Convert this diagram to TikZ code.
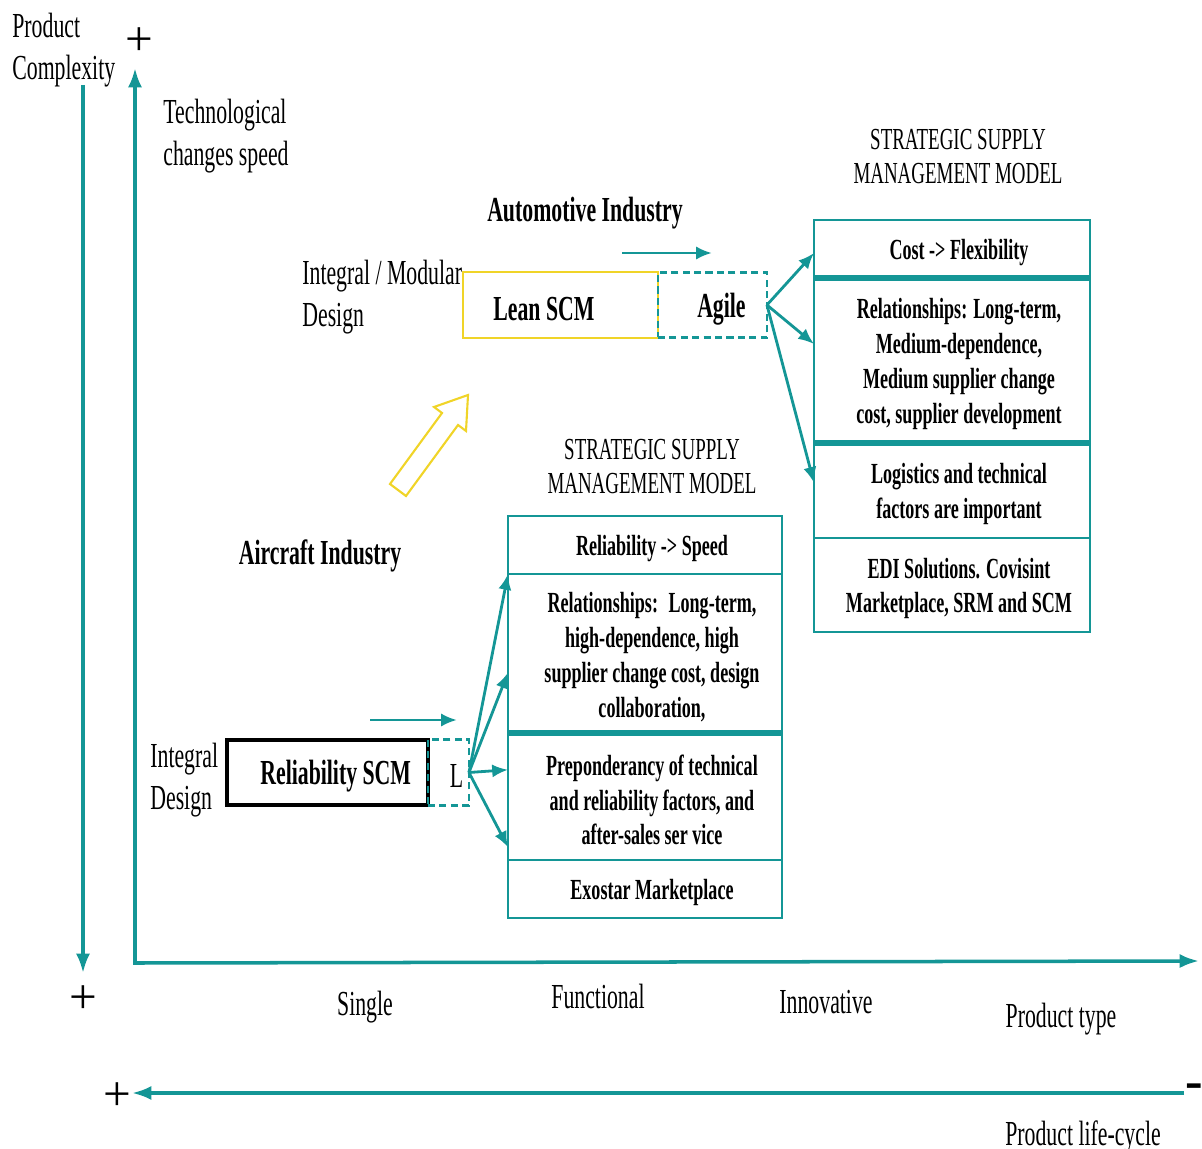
\documentclass[tikz,border=0pt]{standalone}
\usepackage{fontspec}
\setmainfont{Liberation Serif}[FakeStretch=0.62]
\newfontfamily\plusfont{Liberation Serif}
\usetikzlibrary{arrows.meta,positioning,calc}
\definecolor{tealc}{RGB}{20,150,150}
\definecolor{yellowc}{RGB}{240,212,40}
\tikzstyle{axis}=[draw=tealc,line width=2pt,>={Latex[length=11pt,width=8pt]}]
\tikzstyle{flow}=[draw=tealc,line width=1.6pt,-{Latex[length=9pt,width=7.5pt]}]
\tikzstyle{lbl}=[inner sep=0pt,align=left,yshift=-2.2pt,font=\fontsize{20}{24}\selectfont]
\tikzstyle{boldlbl}=[inner sep=0pt,align=center,yshift=-2.2pt,font=\fontsize{20}{24}\selectfont\bfseries]
\tikzstyle{head}=[inner sep=0pt,align=center,yshift=-2.2pt,font=\fontsize{17.4}{19.5}\selectfont]
\tikzstyle{plus}=[inner sep=0pt,font=\plusfont\fontsize{28}{28}\selectfont]
\tikzstyle{cellA}=[draw=tealc,line width=1.1pt,minimum width=5.52cm,inner sep=0pt,outer sep=0pt,align=center,text depth=0.4cm,font=\fontsize{16.6}{19.8}\selectfont\bfseries]
\tikzstyle{cellB}=[cellA,minimum width=5.48cm]
\tikzstyle{thicksep}=[draw=tealc,line width=3pt]
\tikzstyle{dashbox}=[draw=tealc,line width=1.3pt,dash pattern=on 4pt off 2.5pt,inner sep=0pt,outer sep=0pt]
\tikzstyle{solidbox}=[inner sep=0pt,outer sep=0pt,anchor=north west]

\begin{document}
\begin{tikzpicture}[x=0.02cm,y=-0.02cm]
\useasboundingbox (0,0) rectangle (1202,1148);

% axes
\coordinate (o) at (135,963);
\coordinate (ytop) at (135,68);
\coordinate (xend) at (1199,961);
\coordinate (pctop) at (83,85);
\coordinate (pcbot) at (83,973);
\coordinate (lcstart) at (1184,1093);
\coordinate (lcend) at (132,1093);
\draw[axis,<->] (ytop) -- (o) -- (xend);
\draw[axis,->] (pctop) -- (pcbot);
\draw[axis,->] (lcstart) -- (lcend);

\node[plus] (plusA) at (139,42) {+};
\node[plus] (plusB) at (83,1000) {+};
\node[plus] (plusC) at (117,1097) {+};
\node[plus,font=\plusfont\fontsize{30}{30}\selectfont\bfseries] (minusA) at (1194,1091) {-};

\node[lbl,anchor=west] (pcx) at (12,46) {Product\\Complexity};
\node[lbl,anchor=west] (tcs) at (163,132) {Technological\\changes speed};
\node[lbl] (single) at (365,1003) {Single};
\node[lbl] (functional) at (598,993) {Functional};
\node[lbl] (innovative) at (826,998) {Innovative};
\node[lbl] (ptype) at (1061,1015) {Product type};
\node[lbl] (plc) at (1083,1133) {Product life-cycle};

% automotive
\node[boldlbl] (auto) at (585,209) {Automotive Industry};
\node[lbl,anchor=west] (imd) at (302,293) {Integral / Modular\\Design};
\node[solidbox,draw=yellowc,line width=1.5pt,minimum width=3.9cm,minimum height=1.32cm] (lean) at (463,272) {};
\node[boldlbl,anchor=west] at ([xshift=0.6cm]lean.west) {Lean SCM};
\node[dashbox,minimum width=2.18cm,minimum height=1.3cm,right=0pt of lean] (agile) {};
\node[boldlbl] at ([xshift=0.18cm]agile.center) {Agile};
\coordinate (aa1) at (622,253);
\coordinate (aa2) at (712,253);
\draw[flow] (aa1) -- (aa2);

\node[head] (headA) at (958,153) {STRATEGIC SUPPLY\\MANAGEMENT MODEL};
\node[cellA,minimum height=1.16cm,anchor=north west] (c1) at (814,220) {};
\node[cellA,minimum height=3.3cm,below=0pt of c1] (c2) {};
\node[cellA,minimum height=1.9cm,below=0pt of c2] (c3) {};
\node[cellA,minimum height=1.88cm,below=0pt of c3] (c4) {};
\draw[thicksep] (c1.south west) -- (c1.south east);
\draw[thicksep] (c2.south west) -- (c2.south east);
% texts of the upper table
\tikzstyle{celltxt}=[inner sep=0pt,align=center,yshift=-2pt,xshift=0.14cm,font=\fontsize{16.6}{19.8}\selectfont\bfseries]
\node[celltxt] at (c1.center) {Cost -> Flexibility};
\node[celltxt] at (c2.center) {Relationships: Long-term,\\Medium-dependence,\\Medium supplier change\\cost, supplier development};
\node[celltxt] at (c3.center) {Logistics and technical\\factors are important};
\node[celltxt] at (c4.center) {EDI Solutions. Covisint\\Marketplace, SRM and SCM};

\draw[flow] (agile.east) -- ($(c1.north west)!0.57!(c1.south west)$);
\draw[flow] (agile.east) -- ($(c2.north west)!0.4!(c2.south west)$);
\draw[flow] (agile.east) -- ($(c3.north west)!0.42!(c3.south west)$);

% yellow block arrow
\draw[draw=yellowc,line width=1.2pt] (390,484) -- (442,413) -- (434,407) -- (468,395)
  -- (466,431) -- (458,425) -- (406,496) -- cycle;

% aircraft
\node[boldlbl] (air) at (320,552) {Aircraft Industry};
\node[lbl,anchor=west] (idz) at (150,776) {Integral\\Design};
\node[solidbox,draw=black,line width=1.8pt,minimum width=4.02cm,minimum height=1.3cm] (rel) at (227,740) {};
\node[boldlbl,anchor=west] at ([xshift=0.66cm]rel.west) {Reliability SCM};
\node[dashbox,minimum width=0.82cm,minimum height=1.32cm,right=0pt of rel] (lbox) {};
\node[lbl] at ([xshift=0.16cm]lbox.center) {L};
\coordinate (ra1) at (370,720);
\coordinate (ra2) at (457,720);
\draw[flow] (ra1) -- (ra2);

\node[head] (headB) at (652,463) {STRATEGIC SUPPLY\\MANAGEMENT MODEL};
\node[cellB,minimum height=1.16cm,anchor=north west] (r1) at (508,516) {};
\node[cellB,minimum height=3.18cm,below=0pt of r1] (r2) {};
\node[cellB,minimum height=2.54cm,below=0pt of r2] (r3) {};
\node[cellB,minimum height=1.16cm,below=0pt of r3] (r4) {};
\draw[thicksep] (r2.south west) -- (r2.south east);
\node[celltxt] at (r1.center) {Reliability -> Speed};
\node[celltxt] at (r2.center) {Relationships:~ Long-term,\\high-dependence, high\\supplier change cost, design\\collaboration,};
\node[celltxt] at (r3.center) {Preponderancy of technical\\and reliability factors, and\\after-sales ser vice};
\node[celltxt] at (r4.center) {Exostar Marketplace};

\draw[flow] (lbox.east) -- (r1.south west);
\draw[flow] (lbox.east) -- ($(r2.north west)!0.62!(r2.south west)$);
\draw[flow] (lbox.east) -- ($(r3.north west)!0.29!(r3.south west)$);
\draw[flow] (lbox.east) -- ($(r3.north west)!0.9!(r3.south west)$);
\end{tikzpicture}
\end{document}
